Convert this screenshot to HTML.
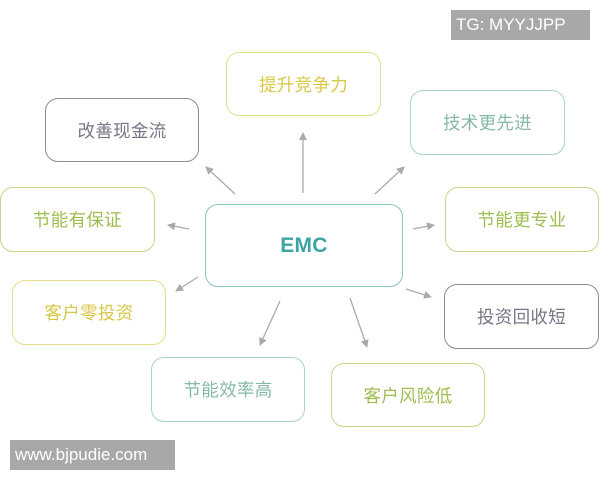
<!DOCTYPE html>
<html><head><meta charset="utf-8"><style>
body{margin:0;width:600px;height:480px;background:#fff;position:relative;overflow:hidden;font-family:"Liberation Sans","Noto Sans CJK SC",sans-serif}
.b{position:absolute;box-sizing:border-box;border:1.5px solid;border-radius:13px;display:flex;align-items:center;justify-content:center;font-size:17.5px;letter-spacing:0.3px}
.y{border-color:#e6df8a;color:#d9c746}
.p{border-color:#8f8b96;color:#7c7486}
.t{border-color:#a9d2cb;color:#86b8a9}
.g{border-color:#c2d98a;color:#9dbd4f}
.w{position:absolute;background:#a8a8a8;color:#fff;font-size:17px;display:flex;align-items:center;padding-left:5px;box-sizing:border-box}
</style></head><body>
<svg width="600" height="480" style="position:absolute;left:0;top:0">
<defs><marker id="a" markerWidth="8" markerHeight="8" refX="7" refY="4" orient="auto" markerUnits="userSpaceOnUse"><path d="M0,0 L8,4 L0,8 z" fill="#aaa"/></marker></defs>
<g stroke="#aaa" stroke-width="1.3" marker-end="url(#a)">
<line x1="303" y1="193" x2="303" y2="133"/>
<line x1="235" y1="194" x2="206" y2="167"/>
<line x1="375" y1="194" x2="404" y2="167"/>
<line x1="189" y1="229" x2="168" y2="225"/>
<line x1="413" y1="229" x2="434" y2="225"/>
<line x1="198" y1="277" x2="176" y2="291"/>
<line x1="406" y1="289" x2="431" y2="297"/>
<line x1="280" y1="301" x2="260" y2="345"/>
<line x1="350" y1="298" x2="367" y2="347"/>
</g></svg>
<div class="b y" style="left:226px;top:52px;width:155px;height:64px">提升竞争力</div>
<div class="b p" style="left:45px;top:98px;width:154px;height:64px">改善现金流</div>
<div class="b t" style="left:410px;top:90px;width:155px;height:65px">技术更先进</div>
<div class="b g" style="left:0px;top:187px;width:155px;height:65px">节能有保证</div>
<div class="b g" style="left:445px;top:187px;width:154px;height:65px">节能更专业</div>
<div class="b" style="left:205px;top:204px;width:198px;height:83px;border-color:#84c6c2;color:#3aa5a4;font-weight:bold;font-size:21px">EMC</div>
<div class="b y" style="left:12px;top:280px;width:154px;height:65px">客户零投资</div>
<div class="b p" style="left:444px;top:284px;width:155px;height:65px">投资回收短</div>
<div class="b t" style="left:151px;top:357px;width:154px;height:65px">节能效率高</div>
<div class="b g" style="left:331px;top:363px;width:154px;height:64px">客户风险低</div>
<div class="w" style="left:451px;top:10px;width:139px;height:30px">TG: MYYJJPP</div>
<div class="w" style="left:10px;top:440px;width:165px;height:30px">www.bjpudie.com</div>
</body></html>
